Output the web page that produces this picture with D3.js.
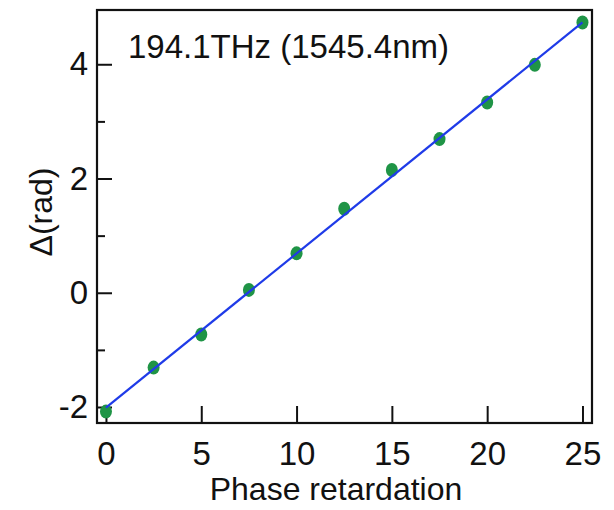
<!DOCTYPE html>
<html>
<head>
<meta charset="utf-8">
<script src="https://cdn.jsdelivr.net/npm/d3@7"></script>
<style>
  html, body { margin: 0; padding: 0; background: #fff; }
  svg { display: block; }
  text { font-family: "Liberation Sans", Arial, sans-serif; fill: #111; }
</style>
</head>
<body>
<svg id="chart" width="614" height="510"></svg>
<script>
// Phase retardation steps and measured phase shift Δ (rad)
const retardation = [0, 2.5, 5, 7.5, 10, 12.5, 15, 17.5, 20, 22.5, 25];
const delta = [-2.08, -1.31, -0.73, 0.05, 0.69, 1.47, 2.15, 2.69, 3.33, 3.99, 4.73];
const xTicks = [0, 5, 10, 15, 20, 25];
const yTicks = [-2, 0, 2, 4];
const yMinorTicks = [-1, 1, 3];
const titleText = "194.1THz (1545.4nm)";
const xLabel = "Phase retardation";
const yLabel = "Δ(rad)";

(function draw() {
  const svg = d3.select("#chart");
  const plotLeft = 97, plotRight = 592, plotTop = 10, plotBottom = 423;

  const x = d3.scaleLinear().domain([-0.47, 25.5]).range([plotLeft, plotRight]);
  const y = d3.scaleLinear().domain([-2.28, 4.95]).range([plotBottom, plotTop]);

  // least-squares fit through the measurements
  const n = retardation.length;
  const mx = d3.mean(retardation), my = d3.mean(delta);
  let sxy = 0, sxx = 0;
  for (let i = 0; i < n; i++) {
    sxy += (retardation[i] - mx) * (delta[i] - my);
    sxx += (retardation[i] - mx) ** 2;
  }
  const slope = sxy / sxx, intercept = my - slope * mx;
  const fitX = [0, 25];

  const plainNumber = (d) => String(d);

  // frame
  svg.append("rect")
    .attr("x", plotLeft).attr("y", plotTop)
    .attr("width", plotRight - plotLeft).attr("height", plotBottom - plotTop)
    .attr("fill", "none").attr("stroke", "#111").attr("stroke-width", 2.2);

  // x axis: inward ticks
  const xAxis = d3.axisBottom(x).tickValues(xTicks).tickSize(-17).tickPadding(19).tickFormat(plainNumber);
  const gx = svg.append("g").attr("transform", `translate(0,${plotBottom})`).call(xAxis);
  gx.select(".domain").remove();
  gx.selectAll(".tick line").attr("stroke", "#111").attr("stroke-width", 2);
  gx.selectAll(".tick text").attr("font-size", 33).attr("font-family", "Liberation Sans, Arial, sans-serif").attr("fill", "#111");

  // y axis: inward major and minor ticks
  const yAxis = d3.axisLeft(y).tickValues(yTicks).tickSize(-15).tickPadding(9).tickFormat(plainNumber);
  const gy = svg.append("g").attr("transform", `translate(${plotLeft},0)`).call(yAxis);
  gy.select(".domain").remove();
  gy.selectAll(".tick line").attr("stroke", "#111").attr("stroke-width", 2);
  gy.selectAll(".tick text").attr("font-size", 33).attr("font-family", "Liberation Sans, Arial, sans-serif").attr("fill", "#111");

  const gyMinor = svg.append("g").attr("transform", `translate(${plotLeft},0)`)
    .call(d3.axisLeft(y).tickValues(yMinorTicks).tickSize(-8).tickFormat(""));
  gyMinor.select(".domain").remove();
  gyMinor.selectAll(".tick line").attr("stroke", "#111").attr("stroke-width", 2);

  // measured points
  svg.append("g").selectAll("ellipse")
    .data(retardation)
    .join("ellipse")
    .attr("cx", (d) => x(d))
    .attr("cy", (d, i) => y(delta[i]))
    .attr("rx", 6)
    .attr("ry", 7)
    .attr("fill", "#1f9446");

  // fitted line
  svg.append("line")
    .attr("x1", x(fitX[0])).attr("y1", y(intercept + slope * fitX[0]))
    .attr("x2", x(fitX[1])).attr("y2", y(intercept + slope * fitX[1]))
    .attr("stroke", "#1f3be8").attr("stroke-width", 2.2);

  // labels
  svg.append("text")
    .attr("x", 128).attr("y", 58)
    .attr("font-size", 33)
    .text(titleText);

  svg.append("text")
    .attr("x", 336).attr("y", 500)
    .attr("text-anchor", "middle")
    .attr("font-size", 32)
    .text(xLabel);

  svg.append("text")
    .attr("transform", "translate(52,212) rotate(-90)")
    .attr("text-anchor", "middle")
    .attr("font-size", 32)
    .text(yLabel);
})();
</script>
</body>
</html>
